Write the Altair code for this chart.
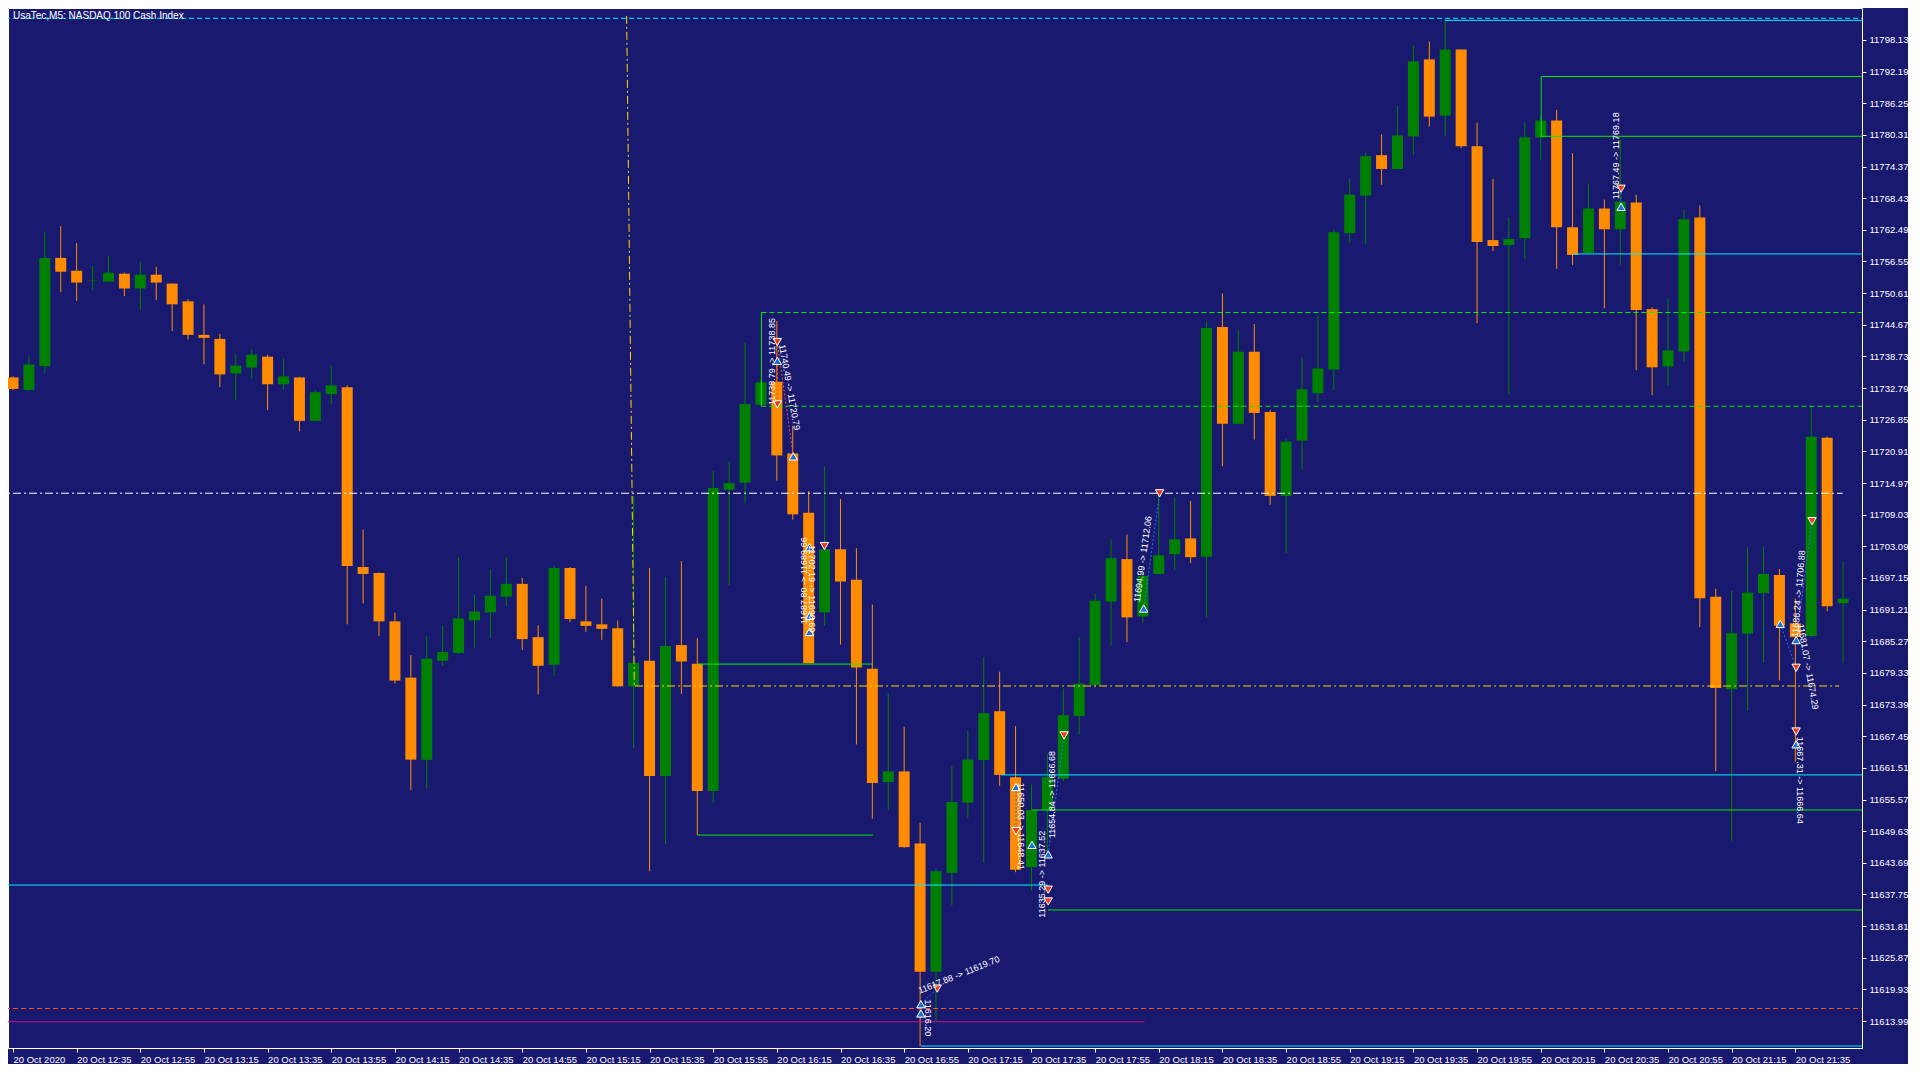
import altair as alt
import pandas as pd

TITLE = "UsaTec,M5:  NASDAQ 100 Cash Index"

opens = [11734.79, 11732.44, 11736.89, 11757.22, 11754.81, 11752.87, 11752.77, 11754.26, 11751.48, 11754.07,
         11752.40, 11749.07, 11742.77, 11742.02, 11735.54, 11736.65, 11738.69, 11733.50, 11734.79, 11726.64,
         11731.64, 11732.94, 11699.21, 11698.09, 11689.01, 11678.45, 11663.06, 11681.60, 11683.08, 11689.20,
         11690.68, 11693.64, 11696.05, 11686.05, 11680.85, 11699.02, 11689.01, 11688.45, 11687.71, 11676.81,
         11681.60, 11660.00, 11684.56, 11681.04, 11657.16, 11713.70, 11715.05, 11729.66, 11733.98, 11720.52,
         11709.40, 11690.72, 11702.54, 11696.80, 11680.11, 11658.87, 11660.84, 11647.30, 11623.24, 11641.80,
         11654.98, 11662.99, 11672.14, 11659.76, 11642.89, 11653.61, 11659.47, 11671.25, 11677.05, 11692.72,
         11700.69, 11689.94, 11697.91, 11701.62, 11704.58, 11701.12, 11744.25, 11726.08, 11739.61, 11728.31,
         11712.55, 11722.93, 11731.83, 11736.28, 11761.86, 11768.90, 11776.50, 11773.91, 11780.02, 11794.48,
         11783.92, 11796.33, 11778.17, 11760.56, 11759.63, 11760.93, 11779.84, 11782.99, 11762.97, 11758.15,
         11766.49, 11762.60, 11767.64, 11747.60, 11736.85, 11739.67, 11764.82, 11693.64, 11676.28, 11686.71,
         11694.31, 11697.72, 11688.64, 11686.28, 11723.49, 11692.42]
highs = [11734.98, 11738.69, 11762.04, 11763.15, 11760.00, 11755.74, 11757.59, 11754.44, 11756.48, 11755.55,
         11752.40, 11749.44, 11748.51, 11742.95, 11739.06, 11740.17, 11739.06, 11738.32, 11734.89, 11732.38,
         11737.02, 11733.31, 11706.25, 11698.18, 11690.68, 11682.71, 11686.23, 11688.27, 11701.06, 11694.02,
         11698.83, 11701.06, 11697.17, 11688.27, 11699.39, 11699.21, 11695.68, 11693.27, 11689.20, 11712.55,
         11699.02, 11697.35, 11700.32, 11685.86, 11717.19, 11719.04, 11741.28, 11734.42, 11745.36, 11725.71,
         11713.48, 11718.11, 11712.00, 11702.73, 11692.16, 11675.52, 11669.21, 11651.20, 11642.49, 11661.76,
         11668.44, 11682.34, 11679.56, 11669.36, 11658.43, 11664.08, 11676.41, 11686.04, 11694.20, 11704.40,
         11705.32, 11698.83, 11712.92, 11712.18, 11711.62, 11745.17, 11750.55, 11743.69, 11744.80, 11728.68,
         11723.30, 11738.50, 11746.47, 11762.60, 11772.05, 11777.06, 11780.39, 11785.77, 11797.08, 11797.82,
         11801.89, 11796.33, 11782.62, 11772.05, 11764.82, 11782.62, 11783.73, 11785.03, 11776.87, 11771.13,
         11768.16, 11779.47, 11769.09, 11747.96, 11749.62, 11766.31, 11767.05, 11695.13, 11694.76, 11702.91,
         11703.10, 11698.83, 11693.27, 11729.42, 11723.67, 11700.35]
lows = [11732.38, 11732.26, 11735.59, 11750.79, 11749.12, 11751.16, 11752.68, 11750.05, 11747.45, 11749.31,
        11743.51, 11741.89, 11737.26, 11733.00, 11730.53, 11734.48, 11728.68, 11732.38, 11724.66, 11726.55,
        11729.79, 11688.45, 11692.35, 11686.23, 11677.33, 11657.31, 11657.68, 11680.67, 11682.89, 11684.01,
        11685.86, 11691.79, 11683.64, 11675.29, 11678.82, 11688.86, 11687.03, 11685.54, 11676.77, 11665.17,
        11642.11, 11647.16, 11675.39, 11648.86, 11654.90, 11695.76, 11711.14, 11729.60, 11715.41, 11708.10,
        11681.13, 11688.19, 11684.67, 11665.92, 11651.98, 11653.66, 11646.49, 11609.31, 11613.94, 11635.72,
        11652.20, 11643.71, 11658.15, 11641.93, 11638.50, 11645.08, 11658.98, 11667.75, 11676.59, 11684.56,
        11685.12, 11688.64, 11697.82, 11698.65, 11699.95, 11689.75, 11718.11, 11725.99, 11723.12, 11710.88,
        11701.80, 11717.56, 11730.16, 11732.38, 11760.00, 11759.82, 11770.94, 11773.81, 11776.50, 11781.88,
        11780.02, 11777.80, 11744.99, 11758.52, 11731.64, 11757.04, 11775.57, 11755.18, 11755.93, 11758.06,
        11747.77, 11755.93, 11736.18, 11731.46, 11733.22, 11737.69, 11687.94, 11660.89, 11647.86, 11672.22,
        11681.23, 11677.93, 11662.69, 11686.05, 11690.92, 11681.15]
closes = [11732.63, 11737.20, 11757.22, 11754.63, 11752.59, 11752.96, 11754.44, 11751.48, 11754.07, 11752.59,
          11748.51, 11742.77, 11742.21, 11735.35, 11737.02, 11739.06, 11733.50, 11734.98, 11726.64, 11732.01,
          11733.31, 11699.39, 11697.91, 11689.01, 11677.89, 11663.06, 11681.97, 11683.26, 11689.57, 11690.86,
          11693.83, 11696.05, 11685.67, 11680.67, 11699.02, 11689.44, 11688.16, 11687.60, 11676.81, 11681.23,
          11660.00, 11684.38, 11681.48, 11657.16, 11714.03, 11714.96, 11729.79, 11733.87, 11720.15, 11709.09,
          11681.13, 11702.54, 11696.48, 11680.35, 11658.65, 11660.84, 11646.64, 11623.24, 11642.11, 11655.09,
          11663.06, 11671.77, 11660.19, 11642.38, 11653.61, 11659.76, 11671.40, 11677.33, 11692.90, 11700.87,
          11689.75, 11697.54, 11701.43, 11704.40, 11701.06, 11744.06, 11726.08, 11739.61, 11728.12, 11712.55,
          11722.75, 11732.57, 11736.46, 11762.04, 11769.09, 11776.32, 11773.91, 11780.21, 11794.11, 11783.73,
          11796.33, 11778.17, 11760.19, 11759.45, 11760.75, 11779.84, 11782.99, 11762.97, 11757.78, 11766.49,
          11762.60, 11767.79, 11747.44, 11736.69, 11739.84, 11764.49, 11693.33, 11676.52, 11686.79, 11694.39,
          11697.91, 11688.19, 11686.05, 11723.67, 11691.83, 11693.27]

x_tick_labels = ["20 Oct 2020", "20 Oct 12:35", "20 Oct 12:55", "20 Oct 13:15", "20 Oct 13:35",
                 "20 Oct 13:55", "20 Oct 14:15", "20 Oct 14:35", "20 Oct 14:55", "20 Oct 15:15",
                 "20 Oct 15:35", "20 Oct 15:55", "20 Oct 16:15", "20 Oct 16:35", "20 Oct 16:55",
                 "20 Oct 17:15", "20 Oct 17:35", "20 Oct 17:55", "20 Oct 18:15", "20 Oct 18:35",
                 "20 Oct 18:55", "20 Oct 19:15", "20 Oct 19:35", "20 Oct 19:55", "20 Oct 20:15",
                 "20 Oct 20:35", "20 Oct 20:55", "20 Oct 21:15", "20 Oct 21:35"]
x_tick_positions = [0, 4, 8, 12, 16, 20, 24, 28, 32, 36, 40, 44, 48, 52, 56, 60, 64, 68, 72, 76,
                    80, 84, 88, 92, 96, 100, 104, 108, 112]
y_tick_values = [11613.99, 11619.93, 11625.87, 11631.81, 11637.75, 11643.69, 11649.63, 11655.57,
                 11661.51, 11667.45, 11673.39, 11679.33, 11685.27, 11691.21, 11697.15, 11703.09,
                 11709.03, 11714.97, 11720.91, 11726.85, 11732.79, 11738.73, 11744.67, 11750.61,
                 11756.55, 11762.49, 11768.43, 11774.37, 11780.31, 11786.25, 11792.19, 11798.13]

CYAN = "#00f0ff"
GREEN = "#00ee00"
WHITE = "#ffffff"
YELLOW = "#ffd700"
RED = "#ff5030"
MAGENTA = "#c71585"
BLUE = "#1e70ff"

seg_x1 = [-1, 89.97, 96.03, 96.03, 96.03, 98.03, 47.03, 47.03, 47.03, -1, 38.56, 39.09, 43.03, 43.03,
          -1, 62.1, 64.03, 65.03, -1, -1, 57.05]
seg_y1 = [11802.19, 11801.80, 11791.27, 11780.04, 11791.27, 11757.96, 11746.97, 11729.38, 11746.97,
          11713.05, 11802.64, 11676.88, 11680.99, 11648.90, 11639.52, 11660.19, 11653.61, 11634.84,
          11616.35, 11613.86, 11609.31]
seg_x2 = [117, 117, 117, 117, 96.03, 117, 117, 117, 47.03, 114.97, 39.04, 114.75, 54.03, 54.03,
          65.03, 117, 117, 117, 117, 71.1, 117]
seg_y2 = [11802.19, 11801.80, 11791.27, 11780.04, 11780.04, 11757.96, 11746.97, 11729.38, 11729.38,
          11713.05, 11676.96, 11676.88, 11680.99, 11648.90, 11639.52, 11660.19, 11653.61, 11634.84,
          11616.35, 11613.86, 11609.31]
seg_col = [CYAN, CYAN, GREEN, GREEN, GREEN, CYAN, GREEN, GREEN, GREEN, WHITE, YELLOW, YELLOW, GREEN,
           GREEN, CYAN, CYAN, GREEN, GREEN, RED, MAGENTA, CYAN]
seg_style = ["dash", "solid", "solid", "solid", "solid", "solid", "dash", "dash", "solid", "dashdot",
             "dashdot", "dashdot", "solid", "solid", "solid", "solid", "solid", "solid", "dash",
             "solid", "solid"]

sell_x = [48.03, 48.03, 50.99, 58.08, 63.03, 65.05, 65.05, 66.05, 72.05, 101.05, 112.05, 112.05, 113.05]
sell_y = [11741.43, 11729.73, 11703.14, 11620.09, 11649.64, 11638.65, 11636.44, 11667.60, 11713.05,
          11770.20, 11680.30, 11668.34, 11707.81]
buy_x = [48.03, 49.03, 50.05, 50.05, 50.05, 57.05, 57.05, 63.03, 64.03, 65.05, 71.05, 101.05, 111.05,
         112.05, 112.05]
buy_y = [11737.89, 11719.97, 11702.91, 11690.01, 11687.03, 11617.16, 11615.42, 11657.92, 11647.06,
         11645.27, 11691.42, 11766.81, 11688.53, 11685.49, 11665.93]

tl_x1 = [48.03, 48.03, 57.05, 63.03, 65.05, 71.05, 101.05, 111.05, 112.05, 112.05]
tl_y1 = [11741.43, 11737.89, 11617.16, 11657.92, 11645.27, 11691.42, 11766.81, 11688.53, 11685.49, 11665.93]
tl_x2 = [49.03, 48.03, 58.08, 63.03, 66.05, 72.05, 101.05, 112.05, 113.05, 112.05]
tl_y2 = [11719.97, 11729.73, 11620.09, 11649.64, 11667.60, 11713.05, 11770.20, 11680.30, 11707.81, 11668.34]
tl_col = [RED, RED, BLUE, BLUE, BLUE, BLUE, BLUE, BLUE, BLUE, RED]

lab_x = [47.69, 48.8, 49.7, 50.2, 59.44, 63.34, 65.28, 64.66, 70.99, 100.74, 112.2, 112.8, 112.3, 57.5]
lab_y = [11737.76, 11732.94, 11696.61, 11695.13, 11622.68, 11650.55, 11656.5, 11641.56, 11700.69,
         11776.37, 11694.2, 11680.5, 11659.17, 11614.6]
lab_text = ["11738.79 -> 11738.85", "11740.49 -> 11720.79", "11687.80 -> 11689.66",
            "11702.19 -> 11690.69", "11617.88 -> 11619.70", "11650.03 -> 11648.41",
            "11654.84 -> 11666.68", "11635.29 -> 11637.52", "11694.99 -> 11712.06",
            "11767.49 -> 11769.18", "11686.24 -> 11706.88", "11681.07 -> 11674.29",
            "11667.31 -> 11666.64", "11616.20"]
lab_angle = [270, 80, 270, 90, 338, 90, 270, 270, 278, 270, 275, 80, 90, 90]

FONT = "Liberation Sans"
PLOT_W = 1854
PLOT_H = 1040

candles = pd.DataFrame({
    "i": list(range(len(opens))),
    "open": opens, "high": highs, "low": lows, "close": closes,
})
candles["dir"] = ["up" if c >= o else "down" for o, c in zip(opens, closes)]

XS = alt.Scale(domain=[0, 115.875], nice=False, zero=False)
YS = alt.Scale(domain=[11608.94, 11804.12], nice=False, zero=False)
col_enc = alt.Color("dir:N", scale=alt.Scale(domain=["up", "down"], range=["#008000", "#ff8c00"]), legend=None)

label_expr = "[" + ",".join("'" + s + "'" for s in x_tick_labels) + "][floor(datum.value / 4)]"

x_axis = alt.Axis(values=x_tick_positions, labelExpr=label_expr, title=None, orient="bottom",
                  labelAlign="left", labelBaseline="top", labelPadding=2, tickSize=4,
                  tickCount=200, labelFlush=False, labelOverlap=False, grid=False)
y_axis = alt.Axis(values=y_tick_values, format=".2f", title=None, orient="right", tickSize=4,
                  tickCount=200, labelPadding=3, grid=False, labelOverlap=False, labelFlush=False)

# first layer carries the axes; other layers leave axis unspecified (merged, not disabled)
wicks = alt.Chart(candles).mark_rule(strokeWidth=1, clip=True).encode(
    x=alt.X("i:Q", scale=XS, axis=x_axis),
    y=alt.Y("low:Q", scale=YS, axis=y_axis),
    y2="high:Q",
    color=col_enc,
)
bodies = alt.Chart(candles).mark_bar(size=11, clip=True).encode(
    x=alt.X("i:Q", scale=XS),
    y=alt.Y("open:Q", scale=YS),
    y2="close:Q",
    color=col_enc,
)

segs = pd.DataFrame({"x1": seg_x1, "y1": seg_y1, "x2": seg_x2, "y2": seg_y2,
                     "col": seg_col, "style": seg_style})

dash_map = {"solid": None, "dash": [5, 3], "dashdot": [8, 3, 2, 3]}
seg_layers = []
for style, dash in dash_map.items():
    sub = segs[segs["style"] == style]
    kw = dict(strokeWidth=1, clip=True)
    if dash is not None:
        kw["strokeDash"] = dash
    seg_layers.append(
        alt.Chart(sub).mark_rule(**kw).encode(
            x=alt.X("x1:Q", scale=XS),
            x2="x2:Q",
            y=alt.Y("y1:Q", scale=YS),
            y2="y2:Q",
            color=alt.Color("col:N", scale=None),
        )
    )

tl = pd.DataFrame({"x1": tl_x1, "y1": tl_y1, "x2": tl_x2, "y2": tl_y2, "col": tl_col})
trade_lines = alt.Chart(tl).mark_rule(strokeWidth=1, strokeDash=[2, 2], clip=True).encode(
    x=alt.X("x1:Q", scale=XS),
    x2="x2:Q",
    y=alt.Y("y1:Q", scale=YS),
    y2="y2:Q",
    color=alt.Color("col:N", scale=None),
)

sells = alt.Chart(pd.DataFrame({"x": sell_x, "y": sell_y})).mark_point(
    shape="triangle-down", filled=True, size=70, fill="#e8401c", stroke=WHITE, strokeWidth=1,
    opacity=1, clip=True).encode(
    x=alt.X("x:Q", scale=XS),
    y=alt.Y("y:Q", scale=YS),
)
buys = alt.Chart(pd.DataFrame({"x": buy_x, "y": buy_y})).mark_point(
    shape="triangle-up", filled=True, size=70, fill="#1e6fd0", stroke=WHITE, strokeWidth=1,
    opacity=1, clip=True).encode(
    x=alt.X("x:Q", scale=XS),
    y=alt.Y("y:Q", scale=YS),
)

labs = pd.DataFrame({"x": lab_x, "y": lab_y, "t": lab_text, "a": lab_angle})
labels = alt.Chart(labs).mark_text(font=FONT, fontSize=9, color=WHITE, align="center",
                                   baseline="middle", clip=True).encode(
    x=alt.X("x:Q", scale=XS),
    y=alt.Y("y:Q", scale=YS),
    text="t:N",
    angle=alt.Angle("a:Q", scale=None),
)

title = alt.Chart(pd.DataFrame({"t": [TITLE]})).mark_text(
    font=FONT, fontSize=10, color=WHITE, align="left", baseline="top").encode(
    x=alt.value(5), y=alt.value(3), text="t:N")

chart = alt.layer(wicks, bodies, *seg_layers, trade_lines, sells, buys, labels, title).properties(
    width=PLOT_W, height=PLOT_H, padding=0,
).configure(background="#191970").configure_view(
    stroke=WHITE, strokeWidth=1
).configure_axis(
    labelFont=FONT, labelFontSize=9.5, labelColor=WHITE, domainColor=WHITE, tickColor=WHITE,
    domainWidth=1, tickWidth=1
)

chart.save("out.html", embed_options={"renderer": "svg", "actions": False})
